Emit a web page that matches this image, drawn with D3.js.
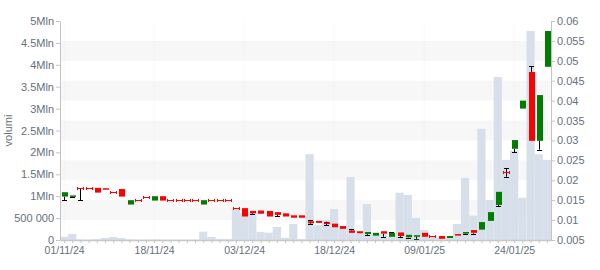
<!DOCTYPE html>
<html>
<head>
<meta charset="utf-8">
<script src="https://cdn.jsdelivr.net/npm/d3@7"></script>
<style>
  body { margin: 0; background: #fff; }
  svg { display: block; font-family: "Liberation Sans", Arial, sans-serif; }
</style>
</head>
<body>
<div id="chart"></div>
<script>
// trading days
const dates = [
  "01/11/24","04/11/24","05/11/24","06/11/24","07/11/24","08/11/24","11/11/24","12/11/24","13/11/24","14/11/24",
  "15/11/24","18/11/24","19/11/24","20/11/24","21/11/24","22/11/24","25/11/24","26/11/24","27/11/24","28/11/24",
  "29/11/24","02/12/24","03/12/24","04/12/24","05/12/24","06/12/24","09/12/24","10/12/24","11/12/24","12/12/24",
  "13/12/24","16/12/24","17/12/24","18/12/24","19/12/24","20/12/24","23/12/24","27/12/24","30/12/24","02/01/25",
  "03/01/25","06/01/25","07/01/25","08/01/25","09/01/25","10/01/25","13/01/25","14/01/25","15/01/25","16/01/25",
  "17/01/25","20/01/25","21/01/25","22/01/25","23/01/25","24/01/25","27/01/25","28/01/25","29/01/25","30/01/25"
];

const open = [
  .0159,.0160,.0180,.0180,.0181,.0180,.0170,.0178,.0139,.0150,
  .0157,.0149,.0160,.0150,.0150,.0150,.0150,.0139,.0150,.0150,
  .0150,.0130,.0130,.0123,.0124,.0123,.0120,.0117,.0112,.0112,
  .0097,.0098,.0094,.0091,.0085,.0074,.0072,.0065,.0061,.0072,
  .0058,.0069,.0057,.0058,.0068,.0059,.0060,.0055,.0065,.0066,
  .0075,.0076,.0098,.0138,.0220,.0279,.0380,.0472,.0299,.0485
];
const close = [
  .0170,.0162,.0180,.0180,.0169,.0179,.0170,.0159,.0150,.0150,
  .0157,.0160,.0149,.0150,.0150,.0150,.0150,.0150,.0150,.0150,
  .0150,.0130,.0109,.0117,.0116,.0109,.0113,.0109,.0106,.0106,
  .0092,.0093,.0090,.0082,.0078,.0068,.0067,.0070,.0068,.0066,
  .0068,.0060,.0063,.0062,.0058,.0059,.0053,.0060,.0061,.0070,
  .0068,.0095,.0120,.0171,.0220,.0301,.0400,.0299,.0414,.0575
];
const high = [
  .0170,.0162,.0180,.0180,.0181,.0180,.0170,.0178,.0150,.0150,
  .0157,.0160,.0160,.0150,.0150,.0150,.0150,.0150,.0150,.0150,
  .0150,.0130,.0130,.0123,.0124,.0123,.0120,.0117,.0112,.0112,
  .0100,.0098,.0096,.0091,.0085,.0077,.0072,.0070,.0068,.0072,
  .0070,.0069,.0063,.0062,.0068,.0059,.0060,.0060,.0065,.0070,
  .0075,.0095,.0120,.0171,.0230,.0301,.0400,.0487,.0414,.0575
];
const low = [
  .0150,.0159,.0150,.0180,.0169,.0179,.0170,.0159,.0139,.0150,
  .0157,.0149,.0149,.0150,.0150,.0150,.0150,.0139,.0150,.0150,
  .0150,.0130,.0109,.0115,.0116,.0109,.0110,.0109,.0106,.0106,
  .0089,.0093,.0087,.0082,.0078,.0068,.0067,.0063,.0061,.0058,
  .0058,.0058,.0056,.0053,.0058,.0059,.0053,.0055,.0061,.0064,
  .0066,.0076,.0098,.0135,.0209,.0270,.0380,.0299,.0277,.0485
];
const volume = [
  75000,140000,15000,10000,20000,45000,70000,45000,15000,10000,
  10000,15000,10000,10000,10000,10000,10000,190000,70000,20000,
  20000,720000,620000,620000,185000,167000,297000,50000,365000,23000,
  1960000,340000,457000,708000,300000,1440000,150000,822000,130000,150000,
  84000,1080000,1030000,505000,228000,90000,46000,46000,365000,1420000,
  555000,2540000,913000,3720000,1830000,2040000,966000,4770000,1960000,1830000
];

const volTicks = [0, 500000, 1000000, 1500000, 2000000, 2500000, 3000000, 3500000, 4000000, 4500000, 5000000];
const volTickLabels = ["0", "500 000", "1Mln", "1.5Mln", "2Mln", "2.5Mln", "3Mln", "3.5Mln", "4Mln", "4.5Mln", "5Mln"];
const priceTicks = [0.005, 0.01, 0.015, 0.02, 0.025, 0.03, 0.035, 0.04, 0.045, 0.05, 0.055, 0.06];
const labelEvery = 11;

const width = 600, height = 270;
const margin = { top: 21, right: 49, bottom: 30, left: 60 };
const textColor = "#66707c";
const axisColor = "#c4c4c4";

const svg = d3.select("#chart").append("svg")
    .attr("width", width)
    .attr("height", height);

const xPoint = d3.scalePoint()
    .domain(dates)
    .range([margin.left, width - margin.right])
    .padding(0.5);

const xBand = d3.scaleBand()
    .domain(dates)
    .range([margin.left, width - margin.right])
    .padding(0);

const yVol = d3.scaleLinear()
    .domain([0, 5000000])
    .range([height - margin.bottom, margin.top]);

const yPrice = d3.scaleLinear()
    .domain([0.005, 0.06])
    .range([height - margin.bottom, margin.top]);

// alternating bands on the price grid
const bands = svg.append("g");
for (let i = 1; i < priceTicks.length - 1; i += 2) {
    bands.append("rect")
        .attr("x", margin.left)
        .attr("width", width - margin.right - margin.left)
        .attr("y", yPrice(priceTicks[i + 1]))
        .attr("height", yPrice(priceTicks[i]) - yPrice(priceTicks[i + 1]))
        .attr("fill", "#f7f7f7");
}

// faint vertical grid at labelled dates
svg.append("g")
    .selectAll("line")
    .data(dates.filter((d, i) => i % labelEvery === 0))
    .enter()
    .append("line")
    .attr("x1", d => xPoint(d))
    .attr("x2", d => xPoint(d))
    .attr("y1", margin.top)
    .attr("y2", height - margin.bottom)
    .attr("stroke", "rgba(0,0,0,0.025)");

// volume bars
svg.append("g")
    .selectAll("rect")
    .data(volume)
    .enter()
    .append("rect")
    .attr("x", (d, i) => xBand(dates[i]))
    .attr("width", xBand.bandwidth())
    .attr("y", d => yVol(d))
    .attr("height", d => yVol(0) - yVol(d))
    .attr("fill", "#d7e0ea");

// candles
const bodyW = 5, capW = 5;
const candles = svg.append("g");
dates.forEach((d, i) => {
    const cx = Math.round(xPoint(d)) + 0.5;
    const o = open[i], c = close[i], h = high[i], l = low[i];
    const top = Math.max(o, c), bottom = Math.min(o, c);
    const g = candles.append("g");

    if (h > top) {
        g.append("line").attr("x1", cx).attr("x2", cx)
            .attr("y1", yPrice(h)).attr("y2", yPrice(top))
            .attr("stroke", "#000");
        g.append("line").attr("x1", cx - capW / 2).attr("x2", cx + capW / 2)
            .attr("y1", Math.round(yPrice(h)) + 0.5).attr("y2", Math.round(yPrice(h)) + 0.5)
            .attr("stroke", "#000");
    }
    if (l < bottom) {
        g.append("line").attr("x1", cx).attr("x2", cx)
            .attr("y1", yPrice(bottom)).attr("y2", yPrice(l))
            .attr("stroke", "#000");
        g.append("line").attr("x1", cx - capW / 2).attr("x2", cx + capW / 2)
            .attr("y1", Math.round(yPrice(l)) + 0.5).attr("y2", Math.round(yPrice(l)) + 0.5)
            .attr("stroke", "#000");
    }

    if (Math.abs(o - c) < 1e-9) {
        // flat candle drawn as a small red I-beam
        const yy = Math.round(yPrice(o)) + 0.5;
        g.append("line").attr("x1", cx - 3).attr("x2", cx + 3)
            .attr("y1", yy).attr("y2", yy).attr("stroke", "red");
        g.append("line").attr("x1", cx - 3).attr("x2", cx - 3)
            .attr("y1", yy - 1.5).attr("y2", yy + 1.5).attr("stroke", "red");
        g.append("line").attr("x1", cx + 3).attr("x2", cx + 3)
            .attr("y1", yy - 1.5).attr("y2", yy + 1.5).attr("stroke", "red");
    } else {
        const y1 = yPrice(top), y2 = yPrice(bottom);
        g.append("rect")
            .attr("x", cx - 0.5 - bodyW / 2 + 0.5)
            .attr("width", bodyW + 1)
            .attr("y", y1)
            .attr("height", Math.max(1.5, y2 - y1))
            .attr("fill", c > o ? "#007c00" : "#ff0000");
    }
});

// axes
const leftAxis = svg.append("g")
    .attr("transform", `translate(${margin.left},0)`)
    .call(d3.axisLeft(yVol)
        .tickValues(volTicks)
        .tickFormat((d, i) => volTickLabels[i])
        .tickSize(4)
        .tickSizeOuter(0));

const rightAxis = svg.append("g")
    .attr("transform", `translate(${width - margin.right},0)`)
    .call(d3.axisRight(yPrice)
        .tickValues(priceTicks)
        .tickFormat(d => String(+d.toFixed(3)))
        .tickSize(4)
        .tickSizeOuter(0));

const bottomAxis = svg.append("g")
    .attr("transform", `translate(0,${height - margin.bottom})`)
    .call(d3.axisBottom(xPoint)
        .tickFormat((d, i) => i % labelEvery === 0 ? d : "")
        .tickSize(3)
        .tickSizeOuter(0));

[leftAxis, rightAxis, bottomAxis].forEach(a => {
    a.select(".domain").attr("stroke", axisColor);
    a.selectAll(".tick line").attr("stroke", axisColor);
    a.selectAll("text").attr("fill", textColor).attr("font-size", 11)
        .attr("font-family", "Liberation Sans, Arial, sans-serif");
});
leftAxis.selectAll("text").attr("x", -6);
rightAxis.selectAll("text").attr("x", 6);
bottomAxis.selectAll("text").attr("y", 7).attr("font-size", 10.5);
bottomAxis.select(".domain").attr("stroke", "#c8c8c8").attr("stroke-width", 1.5);

svg.append("text")
    .attr("transform", `translate(12,${(margin.top + height - margin.bottom) / 2}) rotate(-90)`)
    .attr("text-anchor", "middle")
    .attr("fill", textColor)
    .attr("font-size", 11)
    .text("volumi");
</script>
</body>
</html>
